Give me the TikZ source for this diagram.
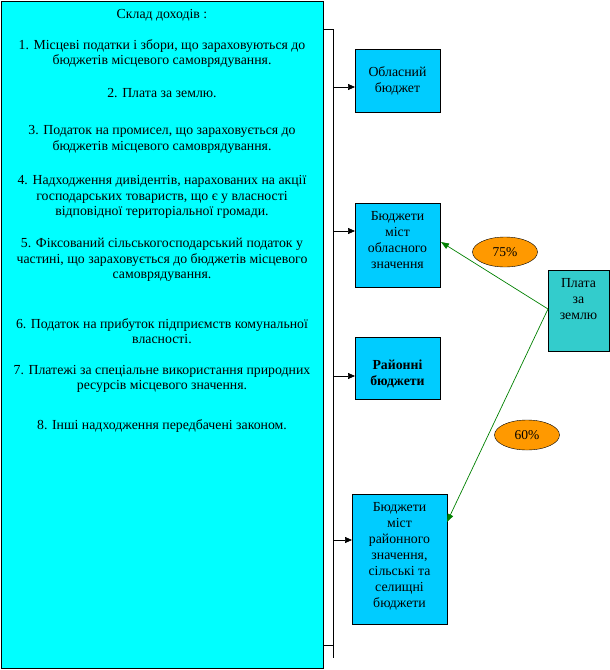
\documentclass[tikz,border=0pt]{standalone}
\usepackage{fontspec}
\setmainfont{Liberation Serif}
\usetikzlibrary{arrows.meta,shapes.geometric}
\definecolor{bigc}{HTML}{00FFFF}
\definecolor{boxc}{HTML}{00CCFF}
\definecolor{platac}{HTML}{33CCCC}
\definecolor{orangec}{HTML}{FF9900}
\definecolor{greenc}{HTML}{008000}
\begin{document}
\begin{tikzpicture}[x=1pt,y=-1pt,
  txt/.style={font=\fontsize{13.8}{15.6}\selectfont, align=center, inner sep=0pt},
  btxt/.style={font=\fontsize{13.8}{16}\selectfont, align=center, inner sep=0pt},
  bbox/.style={draw=black, fill=boxc, line width=0.8pt},
  pct/.style={draw=black, fill=orangec, ellipse, minimum width=65pt, minimum height=30pt, inner sep=0pt, font=\fontsize{13.5}{14}\selectfont},
  blk/.style={-{Triangle[length=7pt,width=6pt]}, line width=0.7pt},
  grn/.style={draw=greenc, -{Triangle[length=8pt,width=6pt]}, line width=0.7pt}]
\useasboundingbox (0,0) rectangle (610,670);
% big box
\draw[fill=bigc, line width=0.8pt] (1,1) rectangle (323,668);
\node (src) at (162,334) {};
\node[txt] (t0) at (162,15) {Склад доходів :};
\node[txt] (t1) at (162,53.5) {1. Місцеві податки і збори, що зараховуються до\\бюджетів місцевого самоврядування.};
\node[txt] (t2) at (162,93) {2. Плата за землю.};
\node[txt] (t3) at (162,139.5) {3. Податок на промисел, що зараховується до\\бюджетів місцевого самоврядування.};
\node[txt] (t4) at (162,197) {4. Надходження дивідентів, нарахованих на акції\\господарських товариств, що є у власності\\відповідної територіальної громади.};
\node[txt] (t5) at (162,260) {5. Фіксований сільськогосподарський податок у\\частині, що зараховується до бюджетів місцевого\\самоврядування.};
\node[txt] (t6) at (162,331) {6. Податок на прибуток підприємств комунальної\\власності.};
\node[txt] (t7) at (162,379) {7. Платежі за спеціальне використання природних\\ресурсів місцевого значення.};
\node[txt] (t8) at (162,426) {8. Інші надходження передбачені законом.};
% bracket
\coordinate (bt) at (323,29);
\coordinate (bt2) at (333,29);
\coordinate (bb) at (323,645);
\coordinate (bb2) at (333,645);
\coordinate (bend) at (333,658);
\draw[line width=0.7pt] (bt) -- (bt2) -- (bend);
\draw[line width=0.7pt] (bb) -- (bb2);
% boxes
\draw[bbox] (355,49) rectangle (440,112);
\node[btxt] (b1) at (397.5,80.5) {Обласний\\бюджет};
\draw[bbox] (355,203) rectangle (440,287);
\node[btxt] (b2) at (397.5,240.5) {Бюджети\\міст\\обласного\\значення};
\draw[bbox] (355,337) rectangle (440,399);
\node[btxt, font=\fontsize{13.8}{16}\selectfont\bfseries] (b3) at (397.5,374) {Районні\\бюджети};
\draw[bbox] (352,494) rectangle (447,624);
\node[btxt] (b4) at (399.5,556) {Бюджети\\міст\\районного\\значення,\\сільські та\\селищні\\бюджети};
\draw[fill=platac, line width=0.8pt] (548,270) rectangle (609,351);
\node[btxt] (pz) at (578.5,299) {Плата\\за\\землю};
% arrows from bracket
\coordinate (a1) at (333,87);
\coordinate (a2) at (333,231);
\coordinate (a3) at (333,376);
\coordinate (a4) at (333,540);
\coordinate (e1) at (355,87);
\coordinate (e2) at (355,231);
\coordinate (e3) at (355,376);
\coordinate (e4) at (352,540);
\draw[blk] (a1) -- (e1);
\draw[blk] (a2) -- (e2);
\draw[blk] (a3) -- (e3);
\draw[blk] (a4) -- (e4);
% green
\coordinate (gs) at (548,309);
\coordinate (g2) at (441,242);
\coordinate (g4) at (447,522);
\draw[grn] (gs) -- (g2);
\draw[grn] (gs) -- (g4);
\node[pct] (p75) at (505,252) {75\%};
\node[pct] (p60) at (527,435) {60\%};
\end{tikzpicture}
\end{document}
